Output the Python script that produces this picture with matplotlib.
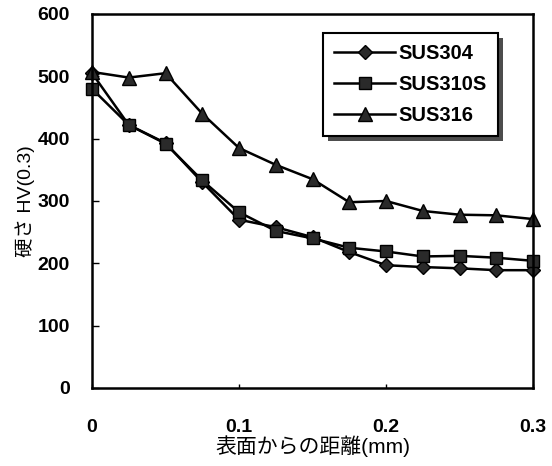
import matplotlib
matplotlib.use("Agg")
import matplotlib.pyplot as plt
from matplotlib.patches import Rectangle

plt.rcParams['font.family'] = ['Liberation Sans', 'Noto Sans CJK JP', 'DejaVu Sans']
plt.rcParams['font.weight'] = 'bold'

# Distance from the surface (mm)
distance = [0, 0.025, 0.05, 0.075, 0.1, 0.125, 0.15, 0.175, 0.2, 0.225, 0.25, 0.275, 0.3]

# Vickers hardness HV(0.3) for each steel grade
sus304 = [505, 422, 393, 330, 270, 258, 242, 218, 197, 194, 192, 189, 189]
sus310s = [480, 422, 392, 333, 282, 252, 240, 225, 219, 211, 212, 209, 204]
sus316 = [507, 498, 505, 440, 385, 358, 335, 298, 300, 284, 278, 277, 271]

series_names = ['SUS304', 'SUS310S', 'SUS316']
x_ticks = [0, 0.1, 0.2, 0.3]
x_tick_labels = ['0', '0.1', '0.2', '0.3']
y_ticks = [0, 100, 200, 300, 400, 500, 600]

fig = plt.figure(figsize=(5.52, 4.66), dpi=100)
ax = fig.add_axes([0.1667, 0.1674, 0.7989, 0.8026])

styles = [
    dict(marker='D', markersize=7.5),
    dict(marker='s', markersize=8.5),
    dict(marker='^', markersize=10),
]
for values, name, st in zip([sus304, sus310s, sus316], series_names, styles):
    ax.plot(distance, values, color='black', linewidth=1.8,
            markerfacecolor='#2a2a2a', markeredgecolor='black',
            markeredgewidth=1.0, label=name, clip_on=False, **st)

ax.set_xlim(0, 0.3)
ax.set_ylim(0, 600)
ax.set_xticks(x_ticks)
ax.set_xticklabels(x_tick_labels)
ax.set_yticks(y_ticks)

ax.tick_params(axis='y', direction='in', length=5, width=1.0, pad=16,
               labelsize=14, left=True, right=False)
ax.tick_params(axis='x', direction='in', length=3, width=1.0, pad=22,
               labelsize=14, bottom=True, top=False)

for spine in ax.spines.values():
    spine.set_linewidth(1.8)
    spine.set_color('black')

ax.set_xlabel('表面からの距離(mm)', fontsize=15, labelpad=0)
ax.set_ylabel('硬さ HV(0.3)', fontsize=14, labelpad=2)

leg = ax.legend(loc='upper right', bbox_to_anchor=(0.921, 0.949),
                borderaxespad=0, fontsize=14.5, frameon=True, fancybox=False,
                framealpha=1.0, handlelength=3.0, handletextpad=0.2,
                labelspacing=0.6, borderpad=0.55)
leg.get_frame().set_edgecolor('black')
leg.get_frame().set_facecolor('white')
leg.get_frame().set_linewidth(1.5)
leg.set_zorder(5)

# Drop shadow below and to the right of the legend box
fig.canvas.draw()
bb = leg.get_frame().get_window_extent()
shadow = Rectangle((bb.x0 + 5, bb.y0 - 5), bb.width, bb.height,
                   transform=None, facecolor='0.3', edgecolor='none', zorder=4)
ax.add_artist(shadow)

fig.savefig('out.png', dpi=100)
